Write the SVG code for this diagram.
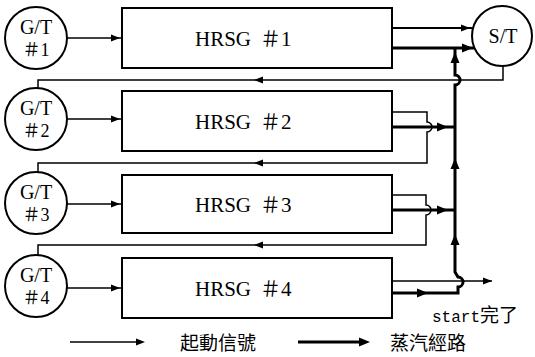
<svg xmlns="http://www.w3.org/2000/svg" xmlns:xlink="http://www.w3.org/1999/xlink" width="535" height="357" viewBox="0 0 535 357">
<style>
.bg{fill:#fff}
.node{fill:#fff;stroke:#000;stroke-width:2}
.lbl{font-family:"Liberation Serif","Noto Sans CJK TC",serif;font-size:20px;fill:#000;text-anchor:middle}
.num{font-family:"Liberation Serif","Noto Sans CJK TC",serif;font-size:18px;fill:#000;text-anchor:middle}
.hl{font-family:"Liberation Serif","Noto Sans CJK TC",serif;font-size:21px;fill:#000}
.cjk{font-family:"Noto Sans CJK TC","Noto Sans CJK JP",sans-serif;font-size:19px;fill:#000}
.mono{font-family:"Liberation Mono",monospace;font-size:16px;fill:#000}
.sig{fill:none;stroke:#000;stroke-width:1.5}
.sig2{fill:none;stroke:#000;stroke-width:2}
.stm{fill:none;stroke:#000;stroke-width:3}
.ah{fill:#000}
</style>
<defs>
<polygon id="a" points="4,0 -5,-3.5 -5,3.5"/>
<polygon id="A" points="5,0 -6,-4.5 -6,4.5"/>
</defs>
<rect class="bg" width="535" height="357"/>

<g id="connectors">
  <path class="sig" d="M67,38 H122"/>
  <path class="sig" d="M67,119 H122"/>
  <path class="sig" d="M67,204 H122"/>
  <path class="sig" d="M67,288 H122"/>
  <use href="#a" class="ah" transform="translate(116,38)"/>
  <use href="#a" class="ah" transform="translate(116,119)"/>
  <use href="#a" class="ah" transform="translate(116,204)"/>
  <use href="#a" class="ah" transform="translate(116,288)"/>
  <path class="sig2" d="M392,28 H473"/>
  <use href="#a" class="ah" transform="translate(466,28)"/>
  <path class="stm" d="M392,48 H475"/>
  <use href="#A" class="ah" transform="translate(468,48)"/>
  <path class="sig" d="M503,66 V80 H38 V88"/>
  <use href="#a" class="ah" transform="translate(258,80) rotate(180)"/>
  <path class="sig" d="M392,112 H427 V122 a5,5 0 0 1 0,10 V163 H38 V172"/>
  <use href="#a" class="ah" transform="translate(258,163) rotate(180)"/>
  <path class="stm" d="M392,127 H455"/>
  <use href="#A" class="ah" transform="translate(443,127)"/>
  <path class="sig" d="M392,195 H426 V205 a5,5 0 0 1 0,10 V245 H38 V255"/>
  <use href="#a" class="ah" transform="translate(258,245) rotate(180)"/>
  <path class="stm" d="M392,210 H455"/>
  <use href="#A" class="ah" transform="translate(443,210)"/>
  <path class="sig" d="M392,281 H492"/>
  <use href="#a" class="ah" transform="translate(488,281)"/>
  <path class="stm" d="M392,293 H458 V287 a5,5 0 0 0 0,-10 L455,272 V85 a5,5 0 0 0 0,-10 V48"/>
  <use href="#A" class="ah" transform="translate(423,293)"/>
  <use href="#A" class="ah" transform="translate(455,239) rotate(-90)"/>
  <use href="#A" class="ah" transform="translate(455,163) rotate(-90)"/>
  <use href="#A" class="ah" transform="translate(455,57) rotate(-90)"/>
</g>

<g id="gt1"><circle class="node" cx="36" cy="38" r="31"/><text class="lbl" x="36" y="34">G/T</text><text class="num" x="36" y="56">＃1</text></g>
<g id="gt2"><circle class="node" cx="36" cy="119" r="31"/><text class="lbl" x="36" y="115">G/T</text><text class="num" x="36" y="137">＃2</text></g>
<g id="gt3"><circle class="node" cx="36" cy="203" r="31"/><text class="lbl" x="36" y="199">G/T</text><text class="num" x="36" y="221">＃3</text></g>
<g id="gt4"><circle class="node" cx="36" cy="286" r="31"/><text class="lbl" x="36" y="282">G/T</text><text class="num" x="36" y="304">＃4</text></g>

<g id="hrsg1"><rect class="node" x="122" y="8" width="270" height="60"/><text class="hl" x="195" y="46">HRSG <tspan x="260">＃1</tspan></text></g>
<g id="hrsg2"><rect class="node" x="122" y="91" width="270" height="60"/><text class="hl" x="195" y="129">HRSG <tspan x="260">＃2</tspan></text></g>
<g id="hrsg3"><rect class="node" x="122" y="175" width="270" height="58"/><text class="hl" x="195" y="212">HRSG <tspan x="260">＃3</tspan></text></g>
<g id="hrsg4"><rect class="node" x="122" y="258" width="270" height="60"/><text class="hl" x="195" y="296">HRSG <tspan x="260">＃4</tspan></text></g>

<g id="st"><circle class="node" cx="502" cy="36" r="30"/><text class="lbl" x="503" y="43">S/T</text></g>

<g id="start-done"><text x="432" y="322"><tspan class="mono">start</tspan><tspan class="cjk" font-size="18px">完了</tspan></text></g>

<g id="legend">
  <path class="sig" d="M70,342 H140"/>
  <use href="#a" class="ah" transform="translate(141,342)"/>
  <text class="cjk" x="180" y="350">起動信號</text>
  <path class="stm" d="M298,342 H364"/>
  <use href="#A" class="ah" transform="translate(365,342)"/>
  <text class="cjk" x="390" y="350">蒸汽經路</text>
</g>
</svg>
